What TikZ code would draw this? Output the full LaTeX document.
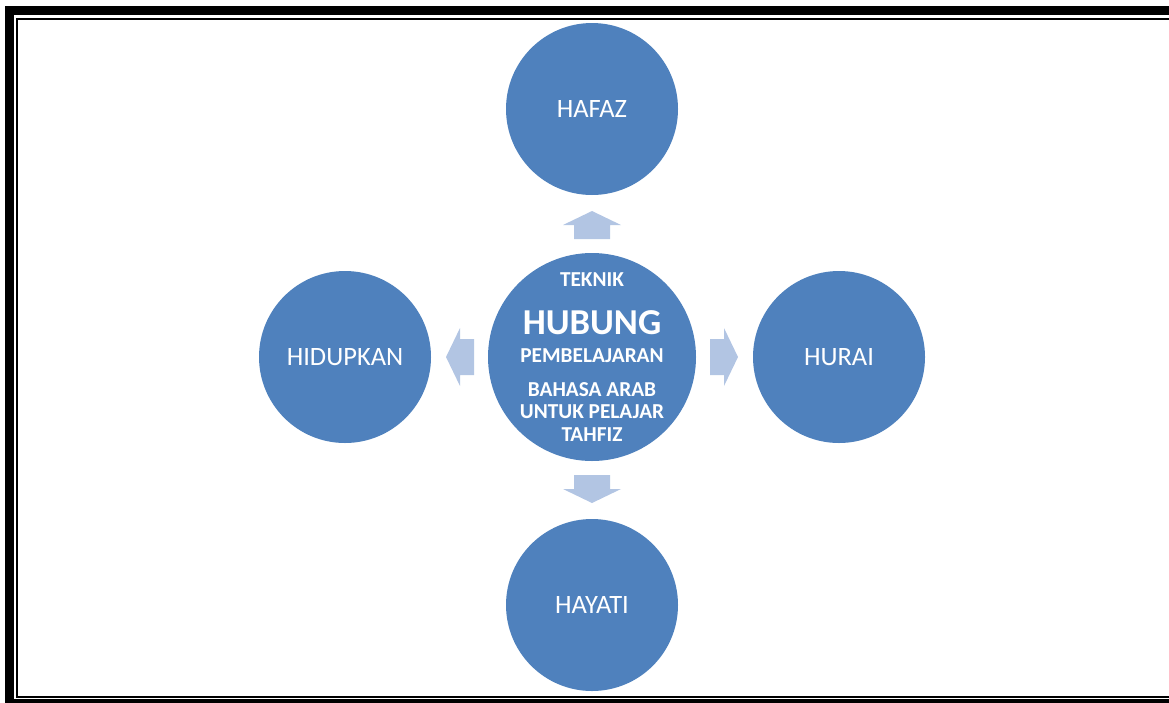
\documentclass[tikz,border=0pt]{standalone}
\usepackage{fontspec}
\setmainfont{Carlito}
\definecolor{circblue}{HTML}{4F81BD}
\definecolor{arrowblue}{HTML}{B2C5E3}
\tikzset{
  idea/.style={circle, fill=circblue, minimum size=172pt, inner sep=0pt, text=white, font=\fontsize{26.5}{29}\selectfont},
  hub/.style={circle, fill=circblue, minimum size=208pt, inner sep=0pt},
  hubtext/.style={text=white, align=center, inner sep=0pt, font=\bfseries\fontsize{21.3}{22.5}\selectfont},
  blockarrow/.style={fill=arrowblue}
}
\begin{document}
\begin{tikzpicture}[x=1pt, y=-1pt]
\useasboundingbox (0,0) rectangle (1169,702);
\clip (0,0) rectangle (1169,702);
%%%%% Frame %%%%%
\draw[line width=9pt] (9.5,10.5) rectangle (1185,703.5);
\draw[line width=2pt] (16.5,18.5) rectangle (1178,696.5);
%%%%% Centre %%%%%
\node[hub, label={[hubtext]center:{TEKNIK\\[23pt]{\fontsize{36.5}{22.5}\selectfont HUBUNG}\\[5pt]PEMBELAJARAN\\[11.5pt]BAHASA ARAB\\UNTUK PELAJAR\\TAHFIZ}}] (hub) at (592,357) {};
%%%%% Ideas %%%%%
\node[idea] (hafaz) at (592,109) {HAFAZ};
\node[idea] (hurai) at (839,357) {HURAI};
\node[idea] (hayati) at (592,605) {HAYATI};
\node[idea] (hidupkan) at (345,357) {HIDUPKAN};
%%%%% Arrows %%%%%
\foreach \ang in {0,90,180,270}{
\fill[blockarrow, shift={(hub.center)}, rotate=\ang] (118,-18)--(132,-18)--(132,-29)--(146,0)--(132,29)--(132,18)--(118,18)--cycle;
}
\end{tikzpicture}
\end{document}
